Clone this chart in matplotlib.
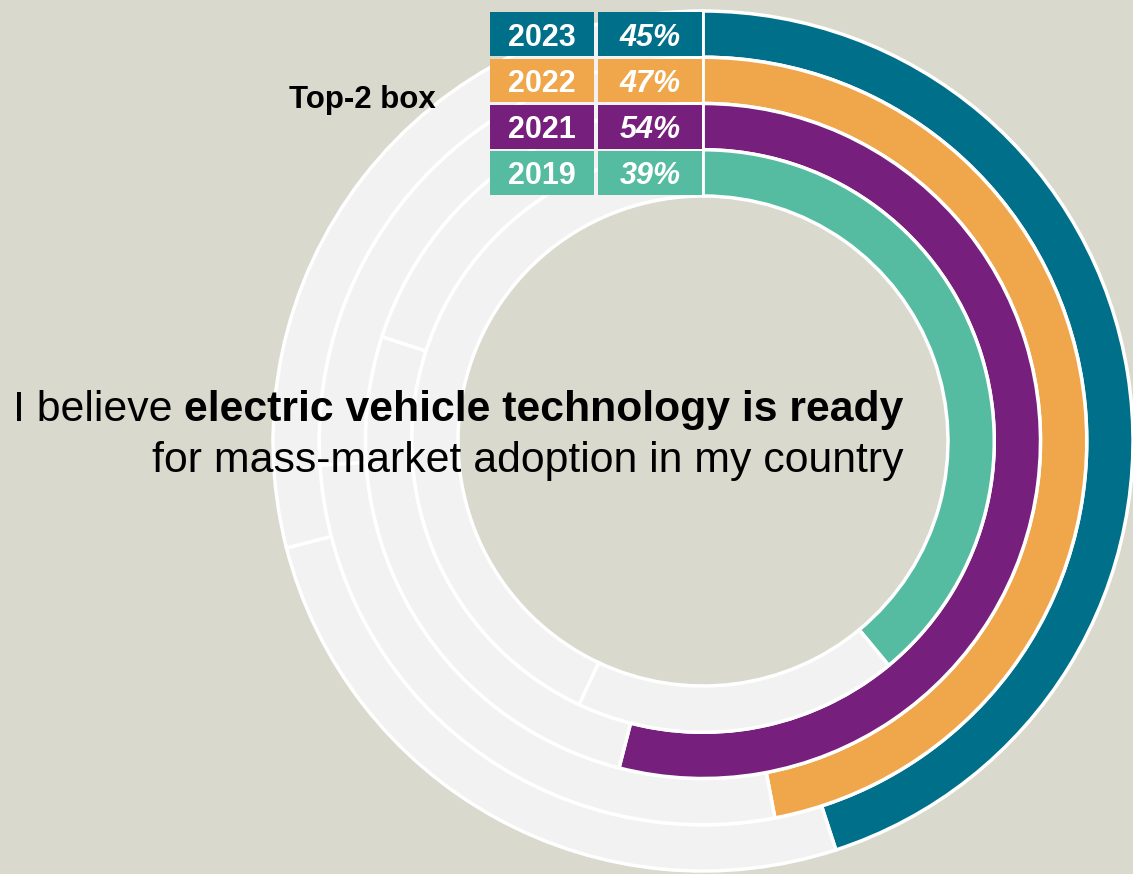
"""Radial ring chart: EV technology readiness, Top-2 box by survey year."""

import matplotlib.pyplot as plt
from matplotlib.patches import Rectangle, Wedge

plt.rcParams["font.family"] = ["Liberation Sans", "DejaVu Sans"]

# data (outermost ring first)
years = ["2023", "2022", "2021", "2019"]
top2 = [45, 47, 54, 39]
neutral = [26, 27, 26, 18]
bottom2 = [29, 26, 20, 43]
colors = ["#006F89", "#F0A74B", "#761F7C", "#55BBA1"]

BG = "#D9D9CE"
GRAY = "#F2F2F2"
W, H = 1133, 874

# layout in pixel units
cx, cy = 703, H - 441
r_inner = 245
ring_w = 46.25
edge_lw = 2.5
gap = 2.5

fig = plt.figure(figsize=(W / 100, H / 100), dpi=100, facecolor=BG)
ax = fig.add_axes([0, 0, 1, 1])
ax.set_xlim(0, W)
ax.set_ylim(0, H)
ax.set_aspect("equal")
ax.axis("off")

n = len(years)
for i, year in enumerate(years):
    r_out = r_inner + (n - i) * ring_w
    start = 0
    for val, col in [(top2[i], colors[i]), (neutral[i], GRAY), (bottom2[i], GRAY)]:
        end = start + val
        ax.add_patch(Wedge((cx, cy), r_out, 90 - 3.6 * end, 90 - 3.6 * start,
                           width=ring_w, facecolor=col, edgecolor="white",
                           linewidth=edge_lw))
        start = end

# label boxes sitting left of the ring tops
for i, year in enumerate(years):
    r_out = r_inner + (n - i) * ring_w
    y0 = cy + r_out - ring_w + gap / 2
    hgt = ring_w - gap
    ax.add_patch(Rectangle((cx - 213, y0), 104, hgt, facecolor=colors[i],
                           edgecolor="none"))
    ax.add_patch(Rectangle((cx - 105, y0), 103.5, hgt, facecolor=colors[i],
                           edgecolor="none"))
    ax.text(cx - 161, y0 + hgt / 2, year, color="white", fontsize=22,
            fontweight="bold", ha="center", va="center_baseline")
    ax.text(cx - 53, y0 + hgt / 2, f"{top2[i]}%", color="white", fontsize=22,
            fontweight="bold", fontstyle="italic", ha="center",
            va="center_baseline")

ax.text(289, H - 108, "Top-2 box", fontsize=22.5, fontweight="bold",
        ha="left", va="baseline", color="black")

# statement in the middle, right aligned
bold = ax.text(903, H - 421, "electric vehicle technology is ready",
               fontsize=30.8, fontweight="bold", ha="right", va="baseline")
fig.canvas.draw()
bb = bold.get_window_extent()
ax.text(bb.x0 - 11, H - 421, "I believe", fontsize=30.8, ha="right",
        va="baseline", transform=None)
ax.text(903, H - 472, "for mass-market adoption in my country",
        fontsize=30.8, ha="right", va="baseline")

fig.savefig("out.png", dpi=100, facecolor=BG)
